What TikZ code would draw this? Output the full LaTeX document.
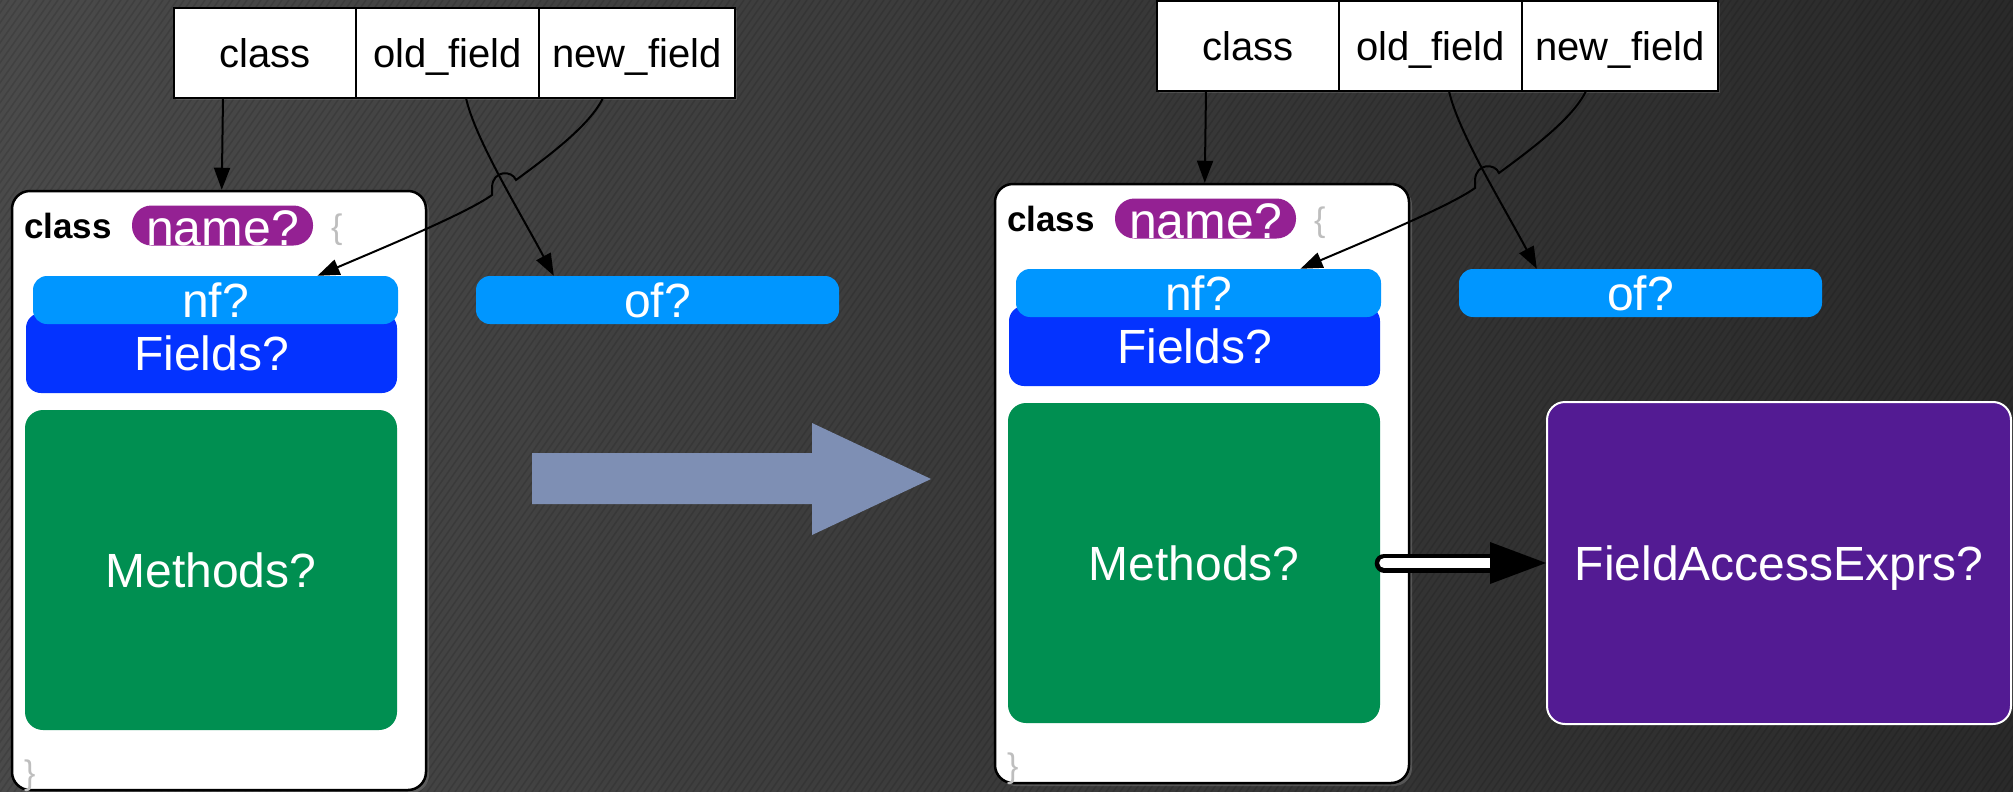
\documentclass[tikz,border=0pt]{standalone}
\usepackage{fontspec}
\setmainfont{Liberation Sans}
\usetikzlibrary{arrows.meta,calc,shadows}

\definecolor{plum}{RGB}{148,33,147}
\definecolor{aqua}{RGB}{0,150,255}
\definecolor{blueberry}{RGB}{4,51,255}
\definecolor{clover}{RGB}{0,143,81}
\definecolor{grape}{RGB}{83,27,147}
\definecolor{slatearrow}{RGB}{126,143,180}
\definecolor{bgleft}{RGB}{74,74,74}
\definecolor{bgright}{RGB}{42,42,42}
\definecolor{bracegray}{RGB}{190,190,190}

\tikzset{
  cell/.style={draw=black, line width=2pt, fill=white, minimum height=90pt,
    inner sep=0pt, outer sep=0pt, text height=28.6pt, text depth=0pt,
    font=\fontsize{40pt}{48pt}\selectfont,
    drop shadow={opacity=0.35, shadow xshift=2pt, shadow yshift=-2pt}},
  classbody/.style={draw=black, line width=2.5pt, fill=white, rounded corners=18pt,
    minimum width=414pt, minimum height=599pt, inner sep=0pt,
    drop shadow={opacity=0.45, shadow xshift=3pt, shadow yshift=-3pt}},
  slot/.style={fill=#1, inner sep=0pt, text=white, text height=34.4pt, text depth=0pt,
    font=\fontsize{48pt}{56pt}\selectfont},
  conn/.style={draw=black, line width=2pt, -{Triangle[length=22pt,width=16pt]}},
  kw/.style={font=\fontsize{35pt}{42pt}\selectfont\bfseries, inner sep=0pt, anchor=base west},
  brace/.style={font=\fontsize{34pt}{40pt}\selectfont, text=bracegray, inner sep=0pt, anchor=base west},
}

% one "class" template with its field table and the arrows into it
\newcommand\classpanel[1]{%
  \node[cell, minimum width=182pt] (#1-tc) at (265,53) {class};
  \node[cell, minimum width=183pt] (#1-to) at (447.5,53) {old\_field};
  \node[cell, minimum width=196pt] (#1-tn) at (637,53) {new\_field};
  \node[classbody] (#1-box) at (219,490.5) {};
  \node[kw] (#1-kw) at (24,238) {class};
  \node[slot=plum, minimum width=181pt, minimum height=39pt, rounded corners=19.5pt,
        text height=40pt, font=\fontsize{50pt}{58pt}\selectfont] (#1-name) at (222.5,225.5) {name?};
  \node[brace] (#1-ob) at (331,238) {\{};
  \node[slot=blueberry, minimum width=371pt, minimum height=80pt, rounded corners=15pt]
        (#1-fields) at (211.5,353) {Fields?};
  \node[slot=aqua, minimum width=365pt, minimum height=48pt, rounded corners=14pt]
        (#1-nf) at (215.5,300) {nf?};
  \node[slot=clover, minimum width=372pt, minimum height=320pt, rounded corners=18pt]
        (#1-meth) at (211,570) {Methods?};
  \node[brace] (#1-cb) at (24,784) {\}};
  \node[slot=aqua, minimum width=363pt, minimum height=48pt, rounded corners=14pt]
        (#1-of) at (657.5,300) {of?};
  \draw[conn] ($(#1-tc.south west)+(49,0)$) -- ($(#1-box.north west)+(211,0)$);
  \draw[conn] ($(#1-to.south)+(18.5,0)$) .. controls +(9,41) and +(-34,-64) ..
        ($(#1-of.north west)+(78,0)$);
  \draw[conn] ($(#1-tn.south)+(-34,0)$) .. controls +(-13,27) and +(34,-25) .. ++(-87,82)
        .. controls +(-4,-10) and +(1,-17) .. ++(-24,7) -- ++(0,8)
        .. controls +(-25,18) and +(68,-29) .. ($(#1-nf.north)+(102,0)$);
}

\begin{document}
\begin{tikzpicture}[x=1pt, y=-1pt]
\useasboundingbox (0,0) rectangle (2013,792);
% dark striped backdrop
\shade[left color=bgleft, right color=bgright] (0,0) rectangle (2013,792);
\begin{scope}
  \clip (0,0) rectangle (2013,792);
  \foreach \s in {-560,-553,...,2013}
    \draw[black, opacity=0.12, line width=1.5pt] (\s,792) -- ++(555,-792);
\end{scope}

% before
\classpanel{l}

% transformation arrow
\fill[slatearrow] (532,453) -- (812,453) -- (812,423) -- (931,479) -- (812,535)
  -- (812,504) -- (532,504) -- cycle;

% after
\begin{scope}[shift={(983,-7)}]
  \classpanel{r}
\end{scope}

\node[slot=grape, draw=white, line width=2pt, minimum width=464pt, minimum height=322pt,
      rounded corners=18pt] (fae) at (1779,563) {FieldAccessExprs?};

\draw[line width=19pt, line cap=round] ($(r-meth.east)+(4,0)$) -- ($(fae.west)+(-54,0)$);
\draw[white, line width=10pt, line cap=round] ($(r-meth.east)+(4,0)$) -- ($(fae.west)+(-54,0)$);
\fill ($(fae.west)+(-56,-21)$) -- (fae.west) -- ($(fae.west)+(-56,21)$) -- cycle;
\end{tikzpicture}
\end{document}
